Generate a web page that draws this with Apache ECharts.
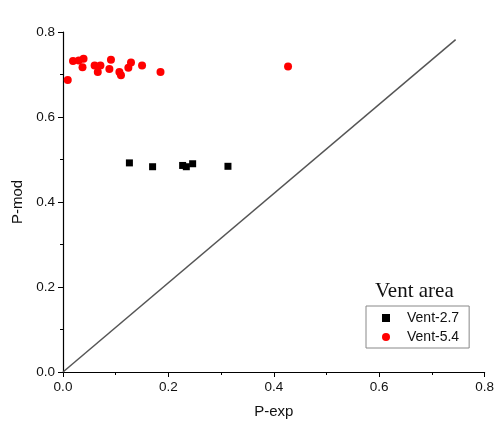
<!DOCTYPE html>
<html>
<head>
<meta charset="utf-8">
<script src="https://cdn.jsdelivr.net/npm/echarts@6/dist/echarts.min.js"></script>
<style>
  html, body { margin: 0; padding: 0; background: #fff; }
  #chart { width: 497px; height: 426px; }
</style>
</head>
<body>
<div id="chart"></div>
<script>
// Measured vs. modelled pressure for two vent areas
const vent27 = [
  [0.126, 0.492], [0.170, 0.483], [0.227, 0.486],
  [0.234, 0.483], [0.246, 0.490], [0.313, 0.484]
];
const vent54 = [
  [0.009, 0.687], [0.019, 0.732], [0.030, 0.733], [0.039, 0.737],
  [0.037, 0.717], [0.060, 0.721], [0.071, 0.721], [0.066, 0.706],
  [0.091, 0.735], [0.088, 0.713], [0.107, 0.706], [0.110, 0.698],
  [0.124, 0.716], [0.129, 0.728], [0.150, 0.721], [0.185, 0.706],
  [0.427, 0.719]
];
// reference line
const refLine = [[0, 0], [0.745, 0.782]];
const xTicks = [0, 0.2, 0.4, 0.6, 0.8];
const yTicks = [0, 0.2, 0.4, 0.6, 0.8];

const chart = echarts.init(document.getElementById('chart'));
const axisCommon = {
  type: 'value',
  min: 0, max: 0.8, interval: 0.2,
  axisLine: { show: true, onZero: false, lineStyle: { color: '#000', width: 1.2 } },
  axisTick: { show: true, inside: false, length: 5, lineStyle: { color: '#000' } },
  minorTick: { show: true, splitNumber: 2, length: 3, lineStyle: { color: '#000' } },
  splitLine: { show: false },
  axisLabel: {
    color: '#111', fontFamily: 'Liberation Sans, Arial, sans-serif', fontSize: 13.5,
    formatter: v => v.toFixed(1)
  },
  nameTextStyle: { color: '#111', fontFamily: 'Liberation Sans, Arial, sans-serif', fontSize: 15 }
};

chart.setOption({
  backgroundColor: '#fff',
  animation: false,
  title: {
    text: 'Vent area',
    left: 370, top: 276,
    textStyle: { fontFamily: 'Liberation Serif, Times New Roman, serif', fontSize: 21, fontWeight: 'normal', color: '#111' }
  },
  legend: {
    data: ['Vent-2.7', 'Vent-5.4'],
    orient: 'vertical',
    left: 366, top: 306,
    padding: [5, 10, 4, 16],
    itemGap: 5,
    itemWidth: 8, itemHeight: 8,
    borderColor: '#888', borderWidth: 1,
    textStyle: { fontFamily: 'Liberation Sans, Arial, sans-serif', fontSize: 14, color: '#111', padding: [0, 0, 0, 12] }
  },
  grid: { left: 63, right: 12, top: 32, bottom: 54, containLabel: false },
  xAxis: Object.assign({}, axisCommon, {
    name: 'P-exp', nameLocation: 'middle', nameGap: 32
  }),
  yAxis: Object.assign({}, axisCommon, {
    name: 'P-mod', nameLocation: 'middle', nameGap: 36
  }),
  series: [
    {
      name: 'ref', type: 'line', data: refLine, showSymbol: false, symbol: 'none',
      lineStyle: { color: '#555', width: 1.5 }, silent: true, z: 1
    },
    {
      name: 'Vent-2.7', type: 'scatter', data: vent27,
      symbol: 'rect', symbolSize: 7, itemStyle: { color: '#000', opacity: 1 }, z: 3
    },
    {
      name: 'Vent-5.4', type: 'scatter', data: vent54,
      symbol: 'circle', symbolSize: 8, itemStyle: { color: '#ff0000', opacity: 1 }, z: 3
    }
  ]
});
</script>
</body>
</html>
